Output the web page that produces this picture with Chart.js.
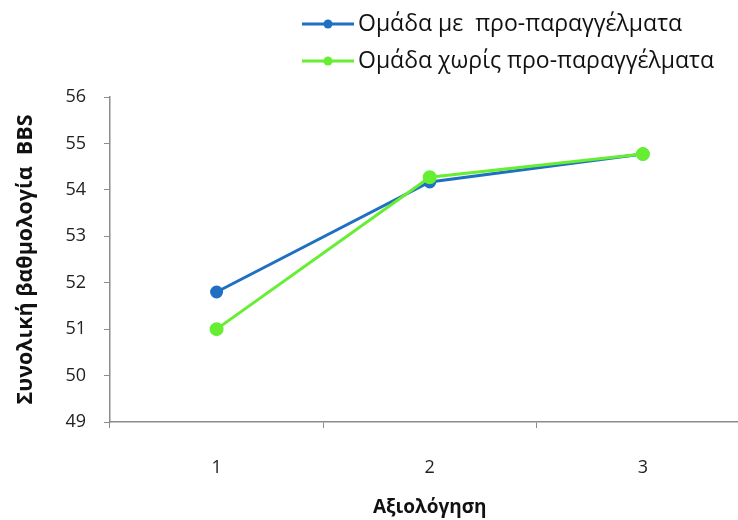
<!DOCTYPE html>
<html>
<head>
<meta charset="utf-8">
<script src="https://cdn.jsdelivr.net/npm/chart.js@4.4.1/dist/chart.umd.min.js"></script>
<style>
  html, body { margin: 0; padding: 0; background: #fff; overflow: hidden; }
</style>
</head>
<body>
<canvas id="myChart" width="758" height="520"></canvas>
<script>
// data
const categories = ["1", "2", "3"];
const withCues = [51.8, 54.17, 54.77];
const withoutCues = [51.0, 54.27, 54.77];
const seriesNames = ["Ομάδα με  προ-παραγγέλματα", "Ομάδα χωρίς προ-παραγγέλματα"];
const seriesColors = ["#1F6FC3", "#66EE33"];
const yMin = 49;
const yMax = 56;

const FONT = "'Open Sans', 'DejaVu Sans', sans-serif";

// legend drawn by hand, stacked in two rows at the top right
const legendPlugin = {
  id: "stackedLegend",
  afterDraw(chart) {
    const ctx = chart.ctx;
    ctx.save();
    const rows = [24, 61];
    chart.data.datasets.forEach((ds, i) => {
      const y = rows[i];
      ctx.strokeStyle = ds.borderColor;
      ctx.lineWidth = 3;
      ctx.beginPath();
      ctx.moveTo(302, y);
      ctx.lineTo(354, y);
      ctx.stroke();
      ctx.fillStyle = ds.borderColor;
      ctx.beginPath();
      ctx.arc(328, y, 4.5, 0, Math.PI * 2);
      ctx.fill();
      ctx.fillStyle = "#111";
      ctx.font = "23px " + FONT;
      ctx.textBaseline = "middle";
      ctx.fillText(ds.label, 358, y);
    });
    ctx.restore();
  }
};

const ctx = document.getElementById("myChart").getContext("2d");
const myChart = new Chart(ctx, {
  type: "line",
  data: {
    labels: categories,
    datasets: [
      {
        label: seriesNames[0],
        data: withCues,
        borderColor: seriesColors[0],
        backgroundColor: seriesColors[0],
        borderWidth: 3,
        pointRadius: 5,
        pointHoverRadius: 5,
        tension: 0,
        order: 1,
      },
      {
        label: seriesNames[1],
        data: withoutCues,
        borderColor: seriesColors[1],
        backgroundColor: seriesColors[1],
        borderWidth: 3,
        pointRadius: 5.5,
        pointHoverRadius: 5.5,
        tension: 0,
        order: 0,
      },
    ],
  },
  options: {
    responsive: false,
    animation: false,
    layout: { padding: { top: 97, left: 12, right: 0, bottom: 0 } },
    plugins: {
      legend: { display: false },
      tooltip: { enabled: false },
    },
    scales: {
      x: {
        offset: true,
        afterFit(scale) { scale.height = 98; },
        grid: {
          offset: true,
          drawOnChartArea: false,
          drawTicks: true,
          tickLength: 6,
          color: "#8c8c8c",
        },
        border: { color: "#8c8c8c", width: 1.5 },
        ticks: {
          color: "#222",
          font: { family: FONT, size: 18 },
          padding: 29,
        },
        title: {
          display: true,
          text: "Αξιολόγηση",
          color: "#111",
          font: { family: FONT, size: 19, weight: "bold" },
          padding: { top: 10, bottom: 1 },
        },
      },
      y: {
        min: yMin,
        max: yMax,
        afterFit(scale) { scale.width = 98; },
        grid: {
          drawOnChartArea: false,
          drawTicks: true,
          tickLength: 6,
          color: "#8c8c8c",
        },
        border: { color: "#8c8c8c", width: 1.5 },
        ticks: {
          stepSize: 1,
          color: "#222",
          font: { family: FONT, size: 18 },
          padding: 18,
        },
        title: {
          display: true,
          text: "Συνολική βαθμολογία  BBS",
          color: "#111",
          font: { family: FONT, size: 21.5, weight: "bold" },
          padding: { top: 1, bottom: 0 },
        },
      },
    },
  },
  plugins: [legendPlugin],
});
</script>
</body>
</html>
